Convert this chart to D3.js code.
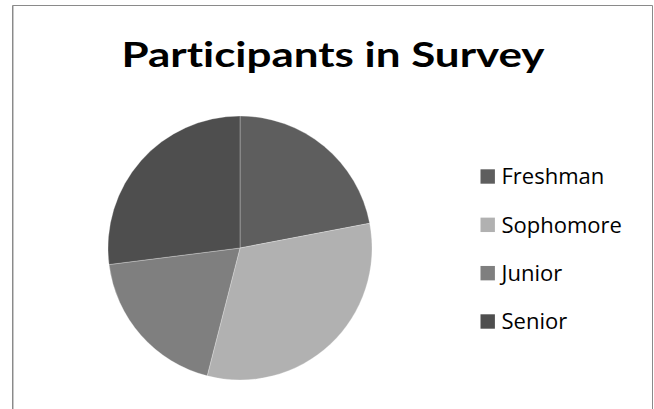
<!DOCTYPE html>
<html>
<head>
<meta charset="utf-8">
<script src="https://cdn.jsdelivr.net/npm/d3@7"></script>
<style>
  html, body { margin: 0; padding: 0; background: #fff; }
  svg { display: block; }
  text { font-variant-ligatures: none; }
</style>
</head>
<body>
<svg id="chart" width="654" height="409"></svg>
<script>
// Survey participants by class year (percent of respondents)
const categories = ["Freshman", "Sophomore", "Junior", "Senior"];
const values = [22, 32, 19, 27];
const colors = ["#5e5e5e", "#b1b1b1", "#7f7f7f", "#4e4e4e"];
const title = "Participants in Survey";

const svg = d3.select("#chart");

// chart frame (open at the bottom edge of the view)
svg.append("path")
  .attr("d", "M12.5,409 V5.5 H652.5 V409")
  .attr("fill", "none")
  .attr("stroke", "#8a8a8a")
  .attr("stroke-width", 1);
svg.append("line")
  .attr("x1", 13.5).attr("x2", 13.5).attr("y1", 6).attr("y2", 409)
  .attr("stroke", "#c8c8c8").attr("stroke-width", 1);

// title
svg.append("text")
  .attr("x", 333)
  .attr("y", 66.5)
  .attr("text-anchor", "middle")
  .attr("font-family", "Lato, 'Open Sans', sans-serif")
  .attr("font-weight", "bold")
  .attr("font-size", 34)
  .attr("textLength", 423)
  .attr("lengthAdjust", "spacingAndGlyphs")
  .attr("fill", "#000")
  .text(title);

// pie
const cx = 240, cy = 248, radius = 132;
const color = d3.scaleOrdinal().domain(categories).range(colors);
const pie = d3.pie().sort(null).value(d => d.value);
const arc = d3.arc().innerRadius(0).outerRadius(radius);
const data = categories.map((c, i) => ({ name: c, value: values[i] }));

svg.append("g")
  .attr("transform", `translate(${cx},${cy})`)
  .selectAll("path")
  .data(pie(data))
  .join("path")
  .attr("d", arc)
  .attr("fill", d => color(d.data.name))
  .attr("stroke", "#ffffff")
  .attr("stroke-opacity", 0.35)
  .attr("stroke-width", 0.8);

// legend
const legendY = d3.scalePoint().domain(categories).range([176.5, 321.5]);
const legend = svg.append("g")
  .selectAll("g")
  .data(categories)
  .join("g")
  .attr("transform", d => `translate(480.5,${legendY(d)})`);

legend.append("rect")
  .attr("x", 0).attr("y", -7.2)
  .attr("width", 14.4).attr("height", 14.4)
  .attr("fill", d => color(d));

legend.append("text")
  .attr("x", 21)
  .attr("y", 7.8)
  .attr("font-family", "'Open Sans', sans-serif")
  .attr("font-size", 22)
  .attr("fill", "#000")
  .text(d => d);
</script>
</body>
</html>
